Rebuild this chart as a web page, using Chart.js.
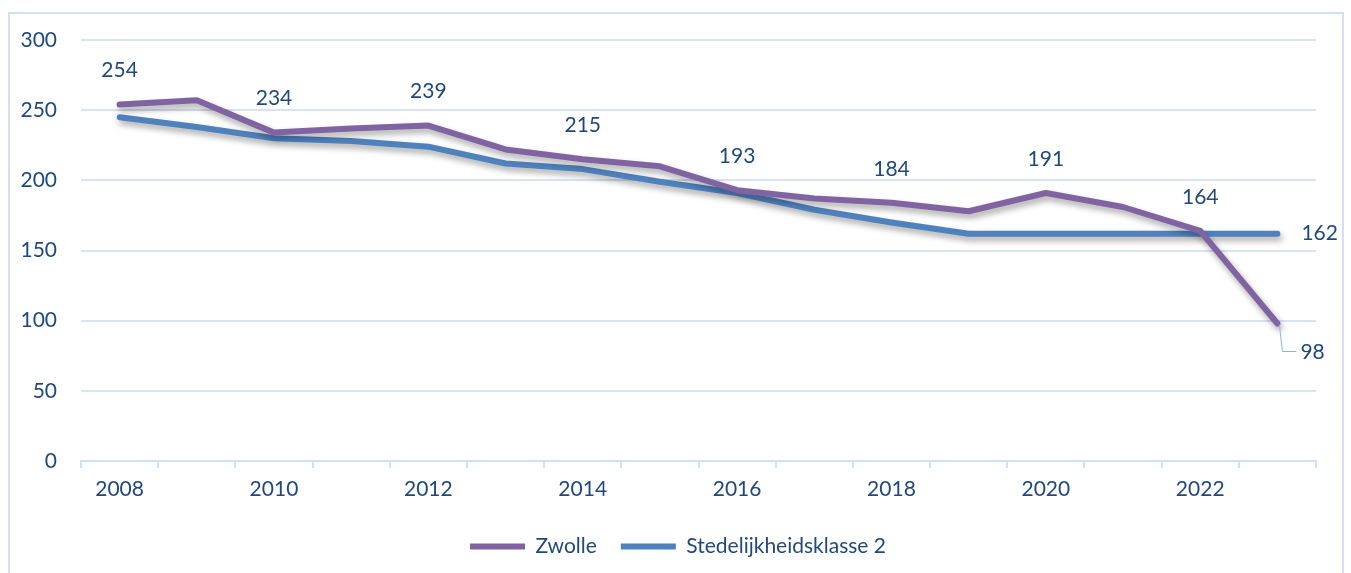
<!DOCTYPE html>
<html>
<head>
<meta charset="utf-8">
<script src="https://cdn.jsdelivr.net/npm/chart.js@4.4.1/dist/chart.umd.min.js"></script>
<style>
  html, body { margin: 0; padding: 0; background: #ffffff; }
  #wrap { position: relative; width: 1351px; height: 573px; }
</style>
</head>
<body>
<div id="wrap"><canvas id="c" width="1351" height="573"></canvas></div>
<script>
const years = ['2008','2009','2010','2011','2012','2013','2014','2015','2016','2017','2018','2019','2020','2021','2022','2023'];
const tickYears = ['2008','2010','2012','2014','2016','2018','2020','2022'];
const zwolle = [254, 257, 234, 237, 239, 222, 215, 210, 193, 187, 184, 178, 191, 181, 164, 98];
const stedelijk = [245, 238, 230, 228, 224, 212, 208, 199, 191, 179, 170, 162, 162, 162, 162, 162];
const zwolleLabelYears = ['2008','2010','2012','2014','2016','2018','2020','2022'];
const zwolleEndLabelYear = '2023';
const stedelijkLabelYears = ['2023'];
const seriesNames = ['Zwolle', 'Stedelijkheidsklasse 2'];

const TEXT = '#1F497D';
const FONT = 'Lato';
const FSIZE = 21;

const frame = {
  id: 'frame',
  beforeDraw(chart) {
    const ctx = chart.ctx;
    ctx.save();
    ctx.strokeStyle = '#D3DFF2';
    ctx.lineWidth = 2;
    ctx.beginPath();
    ctx.moveTo(9, 600);
    ctx.lineTo(9, 13);
    ctx.lineTo(1343, 13);
    ctx.lineTo(1343, 600);
    ctx.stroke();
    ctx.restore();
  },
  afterLayout(chart) {
    const dx = 20;
    chart.legend.left += dx;
    chart.legend.right += dx;
  }
};

const shadow = {
  id: 'shadow',
  beforeDatasetDraw(chart) {
    const ctx = chart.ctx;
    ctx.save();
    ctx.shadowColor = 'rgba(0,0,0,0.35)';
    ctx.shadowBlur = 6;
    ctx.shadowOffsetX = 2;
    ctx.shadowOffsetY = 4;
  },
  afterDatasetDraw(chart) {
    chart.ctx.restore();
  }
};

const valueLabels = {
  id: 'valueLabels',
  afterDatasetsDraw(chart) {
    const ctx = chart.ctx;
    const xs = chart.scales.x, ys = chart.scales.y;
    ctx.save();
    ctx.font = FSIZE + 'px ' + FONT;
    ctx.fillStyle = TEXT;
    ctx.textAlign = 'center';
    ctx.textBaseline = 'middle';
    zwolleLabelYears.forEach(yr => {
      const i = years.indexOf(yr);
      const px = xs.getPixelForValue(i);
      const py = ys.getPixelForValue(zwolle[i]);
      ctx.fillText(String(zwolle[i]), px, py - 34);
    });
    {
      const i = years.indexOf(zwolleEndLabelYear);
      const px = xs.getPixelForValue(i);
      const py = ys.getPixelForValue(zwolle[i]);
      ctx.strokeStyle = '#8DB3E2';
      ctx.lineWidth = 1;
      ctx.beginPath();
      ctx.moveTo(px + 2, py + 1);
      ctx.lineTo(px + 5, py + 28);
      ctx.lineTo(px + 19, py + 28);
      ctx.stroke();
      ctx.textAlign = 'left';
      ctx.fillText(String(zwolle[i]), px + 23, py + 29);
    }
    stedelijkLabelYears.forEach(yr => {
      const i = years.indexOf(yr);
      const px = xs.getPixelForValue(i);
      const py = ys.getPixelForValue(stedelijk[i]);
      ctx.textAlign = 'left';
      ctx.fillText(String(stedelijk[i]), px + 24, py);
    });
    ctx.restore();
  }
};

new Chart(document.getElementById('c'), {
  type: 'line',
  data: {
    labels: years,
    datasets: [
      {
        label: seriesNames[0],
        data: zwolle,
        borderColor: '#8064A2',
        backgroundColor: '#8064A2',
        borderWidth: 6,
        borderCapStyle: 'round',
        borderJoinStyle: 'round',
        pointRadius: 0,
        tension: 0,
        fill: false
      },
      {
        label: seriesNames[1],
        data: stedelijk,
        borderColor: '#4F81BD',
        backgroundColor: '#4F81BD',
        borderWidth: 6,
        borderCapStyle: 'round',
        borderJoinStyle: 'round',
        pointRadius: 0,
        tension: 0,
        fill: false
      }
    ]
  },
  options: {
    responsive: false,
    animation: false,
    devicePixelRatio: 1,
    layout: { padding: { left: 0, right: 35, top: 40, bottom: 6 } },
    plugins: {
      tooltip: { enabled: false },
      legend: {
        position: 'bottom',
        labels: {
          usePointStyle: true,
          pointStyle: 'line',
          pointStyleWidth: 55,
          padding: 24,
          color: TEXT,
          font: { family: FONT, size: FSIZE }
        }
      }
    },
    scales: {
      x: {
        offset: true,
        afterFit(scale) { scale.height = 51; },
        grid: {
          display: true,
          drawOnChartArea: false,
          drawTicks: true,
          tickLength: 7,
          offset: true,
          color: '#D3DFF2',
          lineWidth: 2
        },
        border: { display: true, color: '#D3DFF2', width: 2 },
        ticks: {
          autoSkip: false,
          maxRotation: 0,
          padding: 9,
          color: TEXT,
          font: { family: FONT, size: FSIZE },
          callback(v, i) { return tickYears.includes(years[i]) ? years[i] : ''; }
        }
      },
      y: {
        min: 0,
        max: 300,
        afterFit(scale) { scale.width = 81; },
        grid: {
          color: '#D9E3F3',
          lineWidth: 2,
          drawTicks: false
        },
        border: { display: false },
        ticks: {
          stepSize: 50,
          padding: 24,
          color: TEXT,
          font: { family: FONT, size: FSIZE }
        }
      }
    }
  },
  plugins: [frame, shadow, valueLabels]
});
</script>
</body>
</html>
